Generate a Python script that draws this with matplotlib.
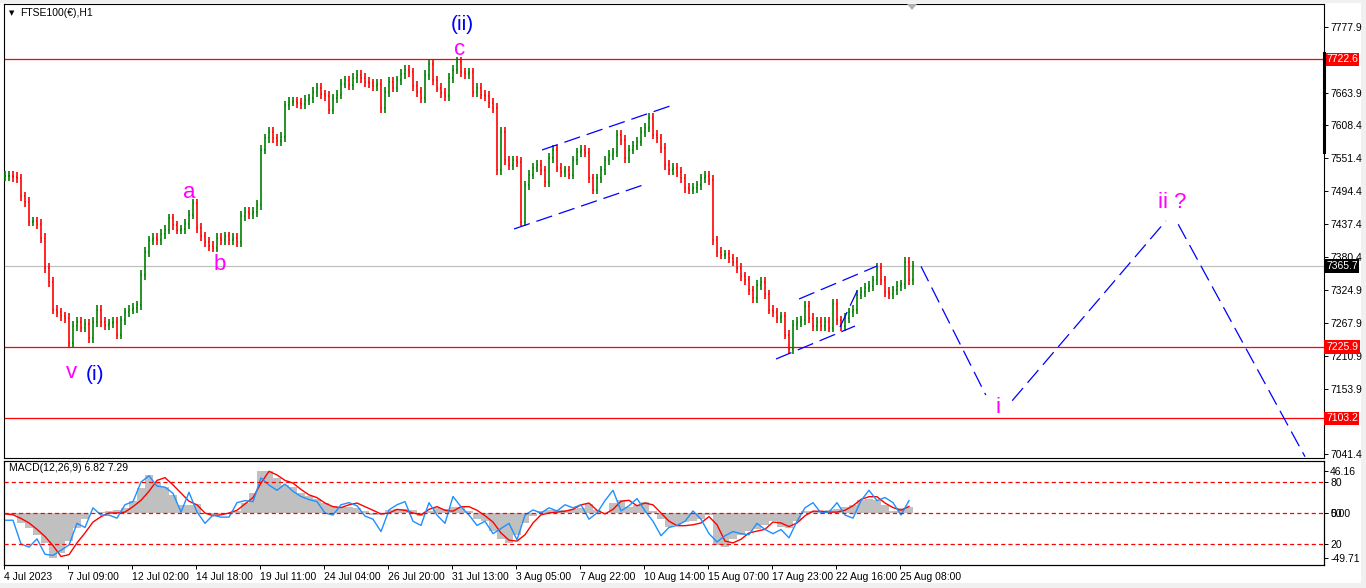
import numpy as np
import matplotlib
matplotlib.use('Agg')
import matplotlib.pyplot as plt
from matplotlib.collections import LineCollection
from matplotlib.patches import Rectangle, Polygon
from matplotlib.lines import Line2D

plt.rcParams['font.family'] = ['Liberation Sans', 'DejaVu Sans']
plt.rcParams['lines.scale_dashes'] = False

# ---------------- data ----------------
# hourly closes (one value per plotted bar), FTSE100 H1, 4 Jul - 25 Aug 2023
closes = [7521, 7521, 7519, 7517, 7486, 7476, 7442, 7443, 7438, 7414,
          7362, 7338, 7290, 7286, 7279, 7276, 7232, 7262, 7269, 7259,
          7266, 7241, 7269, 7290, 7269, 7264, 7267, 7269, 7247, 7272,
          7286, 7290, 7293, 7298, 7350, 7390, 7410, 7414, 7410, 7421,
          7428, 7448, 7436, 7428, 7429, 7438, 7454, 7474, 7431, 7417,
          7407, 7400, 7397, 7414, 7410, 7417, 7410, 7414, 7407, 7452,
          7459, 7455, 7459, 7471, 7566, 7586, 7597, 7586, 7581, 7588,
          7643, 7649, 7650, 7647, 7645, 7652, 7655, 7666, 7673, 7662,
          7659, 7635, 7655, 7661, 7680, 7686, 7678, 7690, 7695, 7690,
          7683, 7681, 7676, 7680, 7638, 7666, 7683, 7673, 7686, 7697,
          7704, 7700, 7676, 7666, 7655, 7695, 7714, 7686, 7673, 7664,
          7659, 7690, 7704, 7718, 7700, 7697, 7700, 7666, 7673, 7661,
          7659, 7647, 7638, 7531, 7597, 7548, 7540, 7548, 7545, 7442,
          7505, 7523, 7535, 7540, 7531, 7510, 7552, 7566, 7535, 7528,
          7531, 7523, 7548, 7562, 7566, 7561, 7517, 7497, 7517, 7531,
          7548, 7557, 7562, 7592, 7583, 7552, 7566, 7573, 7580, 7597,
          7604, 7621, 7592, 7586, 7569, 7540, 7531, 7535, 7528, 7517,
          7500, 7497, 7500, 7505, 7517, 7521, 7514, 7410, 7390, 7385,
          7386, 7379, 7373, 7362, 7348, 7341, 7324, 7310, 7333, 7338,
          7317, 7290, 7286, 7276, 7279, 7247, 7222, 7264, 7269, 7272,
          7297, 7276, 7262, 7269, 7262, 7269, 7259, 7300, 7272, 7262,
          7276, 7286, 7290, 7316, 7321, 7328, 7331, 7341, 7362, 7341,
          7321, 7317, 7324, 7331, 7334, 7373, 7341, 7366]

# MACD main (grey histogram), signal (red), one value per two bars
macd_hist = [-1, -2, -11, -17, -24, -33, -49.71, -44, -31, -17,
             -7, 0, 1, 2, 3, 6, 13, 28, 42, 33,
             29, 20, 9, 9, 10, -1, -2, -1, -1, 2,
             11, 22, 46.16, 46, 39, 31, 29, 22, 19, 15,
             11, 8, 7, 7, 6, 2, -2, -2, 3, 4,
             4, 3, -3, 2, 6, 4, 7, 7, 2, -7,
             -9, -20, -29, -33, -24, -11, -3, 2, 3, 3,
             3, 4, 6, 10, 3, 0, 11, 14, 7, 9,
             12, 2, -7, -15, -13, -10, -9, -7, -2, -35,
             -37, -29, -24, -20, -18, -13, -9, -15, -17, -9,
             2, 2, 2, 3, 4, 7, 9, 14, 15, 14,
             9, 2, 6, 6.82]
macd_signal = [-1, -2, -6, -11, -18, -26, -36, -48, -46, -33,
               -22, -10, -4, 0, 0, 1, 7, 14, 24, 36,
               39, 31, 22, 13, 9, 0, -3, -2, 0, 3,
               10, 17, 33, 46, 42, 36, 33, 26, 20, 17,
               11, 7, 6, 9, 11, 7, 3, -1, 0, 4,
               3, 0, -2, 4, 7, 3, 2, 7, 7, 3,
               -3, -10, -22, -30, -31, -24, -11, -2, 0, 1,
               2, 4, 9, 11, 3, -1, 4, 13, 14, 8,
               11, 9, 0, -9, -14, -14, -13, -11, -4, -13,
               -31, -33, -29, -22, -20, -18, -10, -11, -15, -11,
               -3, 2, 2, 1, 1, 3, 8, 15, 18, 18,
               11, 6, 3, 7.29]
# blue oscillator (0-100 scale, levels 80/50/20), one value per two bars
osc_blue = [43, 43, 20, 17, 25, 10, 9, 14, 19, 40,
            36, 55, 48, 48, 45, 58, 61, 80, 86, 76,
            75, 69, 51, 70, 51, 40, 48, 46, 46, 60,
            62, 61, 84, 77, 72, 78, 71, 66, 63, 61,
            50, 48, 58, 60, 57, 47, 44, 32, 53, 58,
            61, 42, 38, 60, 48, 40, 66, 56, 48, 38,
            42, 30, 35, 40, 24, 48, 53, 50, 55, 52,
            58, 55, 58, 44, 50, 62, 72, 52, 57, 64,
            52, 42, 28, 36, 38, 42, 52, 44, 30, 22,
            28, 32, 30, 29, 40, 34, 30, 34, 26, 42,
            55, 60, 50, 51, 60, 48, 45, 62, 72, 62,
            65, 60, 48, 62]

levels_red = [7722.6, 7225.9, 7103.2]
level_last = 7365.7
price_ticks = [7777.9, 7720.9, 7663.9, 7608.4, 7551.4, 7494.4, 7437.4, 7380.4,
               7324.9, 7267.9, 7210.9, 7153.9, 7096.9, 7041.4]
hidden_ticks = [7720.9, 7096.9]   # covered by the level boxes in the reference
time_labels = ['4 Jul 2023', '7 Jul 09:00', '12 Jul 02:00', '14 Jul 18:00',
               '19 Jul 11:00', '24 Jul 04:00', '26 Jul 20:00', '31 Jul 13:00',
               '3 Aug 05:00', '7 Aug 22:00', '10 Aug 14:00', '15 Aug 07:00',
               '17 Aug 23:00', '22 Aug 16:00', '25 Aug 08:00']
time_label_bars = [16 * k - 0.25 for k in range(len(time_labels))]

# drawn trend channels (bar index, price)
channels = [
    [(127.25, 7429.5), (160.25, 7507.1)],
    [(134.25, 7565.8), (167.0, 7643.4)],
    [(192.75, 7205.2), (212.5, 7262.1)],
    [(198.5, 7308.7), (218.0, 7365.6)],
    [(208.75, 7260.4), (213.75, 7332.9)],
]
# projected wave path
projection = [
    [(229.0, 7365.0), (245.2, 7143.0)],
    [(251.8, 7133.3), (290.2, 7443.3)],
    [(293.3, 7437.6), (325.0, 7036.7)],
]
# wave labels: (text, bar, price baseline, colour, size)
wave_labels = [
    ('(ii)', 114.25, 7772.0, '#0000FF', 15),
    ('c', 113.75, 7729.6, '#FF00FF', 16),
    ('a', 46.0, 7483.0, '#FF00FF', 16),
    ('b', 53.75, 7358.8, '#FF00FF', 16),
    ('v', 16.5, 7172.5, '#FF00FF', 16),
    ('(i)', 22.5, 7169.0, '#0000FF', 15),
    ('i', 248.25, 7112.1, '#FF00FF', 16),
    ('ii ?', 291.75, 7465.7, '#FF00FF', 16),
]

# ---------------- figure ----------------
W, H = 1366, 588
fig = plt.figure(figsize=(W / 100, H / 100), dpi=100)
fig.patch.set_facecolor('white')


def fx(px):
    return px / W


def fy(py):
    return 1 - py / H


# light grey window borders
fig.patches.append(Rectangle((0, 0), 1, fy(583), transform=fig.transFigure,
                             fc='#F0F0F0', ec='none', zorder=-5))
fig.patches.append(Rectangle((fx(1361), 0), 1, 1, transform=fig.transFigure,
                             fc='#F0F0F0', ec='none', zorder=-5))
fig.patches.append(Rectangle((0, fy(3)), 1, 1, transform=fig.transFigure,
                             fc='#F0F0F0', ec='none', zorder=-5))

XL = (-0.25, 329.75)
LBL = 7.5

# ---- main price panel ----
ax = fig.add_axes([fx(4), fy(458), fx(1324) - fx(4), fy(4) - fy(458)])
ax.set_xlim(*XL)
ax.set_ylim(7034.45, 7817.6)
for s in ax.spines.values():
    s.set_linewidth(0.8)
    s.set_color('black')

c = np.array(closes, dtype=float)
o = np.r_[c[0], c[:-1]]
pad = 8.0
hi = np.maximum(o, c) + pad
lo = np.minimum(o, c) - pad
segs, cols = [], []
for i in range(len(c)):
    col = '#008000' if c[i] >= o[i] else '#FF0000'
    segs += [[(i, lo[i]), (i, hi[i])],
             [(i - 0.3, o[i]), (i, o[i])],
             [(i, c[i]), (i + 0.3, c[i])]]
    cols += [col] * 3
ax.add_collection(LineCollection(segs, colors=cols, linewidths=1.2, zorder=3))

for lv in levels_red:
    ax.axhline(lv, color='#FF0000', lw=0.9, zorder=2)
ax.axhline(level_last, color='#C0C0C0', lw=0.9, zorder=1)

for seg in channels + projection:
    (x0, y0), (x1, y1) = seg
    ax.plot([x0, x1], [y0, y1], color='#0000FF', lw=0.9, dashes=(12, 5), zorder=4)

for txt, bx, by, colr, sz in wave_labels:
    ax.text(bx, by, txt, color=colr, fontsize=sz, ha='center', va='baseline', zorder=6)

ax.yaxis.tick_right()
ax.set_yticks(price_ticks)
ax.set_yticklabels(['' if v in hidden_ticks else f'{v:.1f}' for v in price_ticks])
ax.tick_params(axis='y', length=3, width=0.7, labelsize=LBL, pad=1.5, colors='black')
ax.set_xticks([])

ytr = ax.get_yaxis_transform()
for lv in levels_red:
    ax.text(1.0015, lv, f'{lv:.1f}', transform=ytr, ha='left', va='center', fontsize=LBL,
            color='white', clip_on=False, zorder=10,
            bbox=dict(boxstyle='square,pad=0.15', fc='#FF0000', ec='none'))
ax.text(1.0015, level_last, f'{level_last:.1f}', transform=ytr, ha='left', va='center',
        fontsize=LBL, color='white', clip_on=False, zorder=10,
        bbox=dict(boxstyle='square,pad=0.15', fc='black', ec='none'))

# title
fig.text(fx(12), fy(13), '\u25BC', fontsize=5, ha='center', va='center',
         family=['DejaVu Sans'])
fig.text(fx(20), fy(13), 'FTSE100(\u20AC),H1', fontsize=LBL, ha='left', va='center')

# chart-shift marker and scale marker
fig.patches.append(Polygon([(fx(907), fy(4)), (fx(917), fy(4)), (fx(912), fy(10))],
                           closed=True, transform=fig.transFigure, fc='#B0B0B0',
                           ec='none', zorder=20))
fig.lines.append(Line2D([fx(1324), fx(1324)], [fy(53), fy(152)], transform=fig.transFigure,
                        color='black', lw=2.2, zorder=20))

# ---- MACD panel ----
axm = fig.add_axes([fx(4), fy(565), fx(1324) - fx(4), fy(461) - fy(565)])
axo = axm.twinx()
axm.set_xlim(*XL)
axm.set_ylim(-57.4, 57.4)
for s in axm.spines.values():
    s.set_linewidth(0.8)
    s.set_color('black')
mx = np.arange(len(macd_hist)) * 2
axm.bar(mx, macd_hist, width=2.0, color='#C0C0C0', linewidth=0, zorder=1)
axm.plot(np.arange(len(macd_signal)) * 2, macd_signal, color='#FF0000', lw=1.0, zorder=3)
axm.yaxis.tick_right()
axm.yaxis.set_label_position('right')
axm.set_yticks([46.16, 0.0, -49.71])
axm.set_yticklabels(['46.16', '0.00', '-49.71'])
axm.tick_params(axis='y', which='both', left=False, labelleft=False, right=True,
                labelright=True, length=3, width=0.7, labelsize=LBL, pad=1.5)

axm.set_xticks(time_label_bars)
axm.set_xticklabels(time_labels)
axm.tick_params(axis='x', length=3, width=0.7, labelsize=LBL, pad=2)
for lab in axm.get_xticklabels():
    lab.set_ha('left')

axo.set_xlim(*XL)
axo.set_ylim(-0.34, 100.34)
axo.plot(np.arange(len(osc_blue)) * 2, osc_blue, color='#1E90FF', lw=1.0, zorder=2)
for lv in (80, 50, 20):
    axo.axhline(lv, color='#FF0000', lw=0.9, dashes=(3, 2.2), zorder=4)
axo.set_yticks([80, 50, 20])
axo.set_yticklabels(['80', '50', '20'])
axo.tick_params(axis='y', length=3, width=0.7, labelsize=LBL, pad=1.5)
for s in axo.spines.values():
    s.set_linewidth(0.8)

fig.text(fx(9), fy(468), 'MACD(12,26,9) 6.82 7.29', fontsize=LBL, ha='left', va='center')

fig.savefig('out.png', dpi=100, facecolor=fig.get_facecolor())
